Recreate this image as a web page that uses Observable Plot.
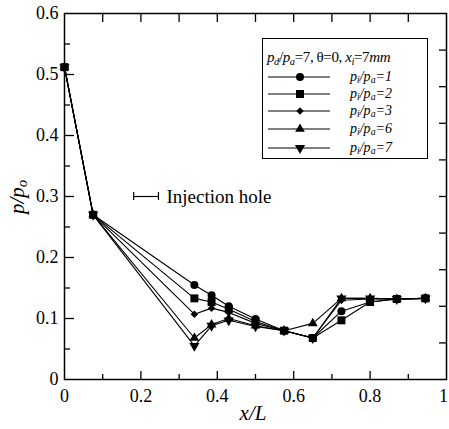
<!DOCTYPE html>
<html><head><meta charset="utf-8">
<script src="https://cdn.jsdelivr.net/npm/d3@7"></script>
<script src="https://cdn.jsdelivr.net/npm/@observablehq/plot@0.6"></script>
<style>
body{margin:0;background:#fff;}
#wrap{position:relative;width:449px;height:429px;font-family:"Liberation Serif",serif;color:#000;}
#wrap svg text{font-family:"Liberation Serif",serif !important;font-size:18px;}
#wrap svg text.hole{font-size:19px;}
#legend{position:absolute;left:262px;top:38px;width:166px;height:121px;border:1px solid #000;box-sizing:border-box;background:#fff;}
.lg{position:absolute;white-space:nowrap;line-height:1;}
.lab{position:absolute;white-space:nowrap;font-style:italic;line-height:1;}
sub{font-size:0.7em;vertical-align:-0.25em;line-height:0;}
</style></head><body><div id="wrap"></div>
<script>
// ---- data ----
const xPos = [0, 0.075, 0.34, 0.385, 0.43, 0.5, 0.575, 0.65, 0.725, 0.8, 0.87, 0.945];
const s1 = [0.512, 0.27, 0.155, 0.138, 0.12, 0.099, 0.080, 0.068, 0.112, 0.127, 0.132, 0.133];
const s2 = [0.512, 0.27, 0.133, 0.127, 0.115, 0.095, 0.080, 0.068, 0.097, 0.127, 0.132, 0.133];
const s3 = [0.512, 0.27, 0.107, 0.117, 0.110, 0.092, 0.080, 0.068, 0.130, 0.132, 0.132, 0.133];
const s4 = [0.512, 0.27, 0.068, 0.090, 0.100, 0.088, 0.080, 0.092, 0.133, 0.133, 0.132, 0.133];
const s5 = [0.512, 0.27, 0.055, 0.088, 0.097, 0.087, 0.080, 0.068, 0.133, 0.133, 0.132, 0.133];
const seriesValues = [s1, s2, s3, s4, s5];
const seriesNames = ["1", "2", "3", "6", "7"];
const seriesSymbols = ["circle", "square", "diamond2", "triangle", "triangle"];
const seriesRotate = [0, 0, 0, 0, 180];
const seriesR = [4, 4.5, 3.4, 3.6, 3.8];
const xTickLabels = [0, 0.2, 0.4, 0.6, 0.8];
const xLastLabel = [1];
const yTickLabels = [0, 0.1, 0.2, 0.3, 0.4, 0.5, 0.6];
const xMinor = [0.1, 0.3, 0.5, 0.7, 0.9];
const xMajor = [0.2, 0.4, 0.6, 0.8];
const yMinor = [0.05, 0.15, 0.25, 0.35, 0.45, 0.55];
const yMajor = [0.1, 0.2, 0.3, 0.4, 0.5];
const yRight = [0.06, 0.12, 0.18, 0.24, 0.30, 0.36, 0.42, 0.48, 0.54];
const hole = [{x1: 0.181, x2: 0.246, y: 0.3}];
const holeText = "Injection hole";

// ---- build ----
const W = 449, H = 429, mL = 64, mR = 3, mT = 13, mB = 50;
const pxX = 1 / (W - mL - mR);          // one pixel in x units
const pxY = 0.6 / (H - mT - mB);        // one pixel in y units
const fmt = d => String(d);

const rows = [];
seriesValues.forEach((vals, i) => vals.forEach((v, j) => rows.push({series: i, x: xPos[j], y: v})));

const marks = [
  Plot.frame({stroke: "black", strokeWidth: 1.5}),
  Plot.axisX(xTickLabels, {tickSize: 0, tickPadding: 10, label: null, tickFormat: fmt}),
  Plot.axisX(xLastLabel, {tickSize: 0, tickPadding: 10, label: null, tickFormat: fmt, dx: -3}),
  Plot.axisY(yTickLabels, {tickSize: 0, tickPadding: 6, label: null, tickFormat: fmt}),
  // inward ticks
  Plot.ruleX(xMajor, {y1: 0, y2: 8 * pxY, stroke: "black", strokeWidth: 1.3}),
  Plot.ruleX(xMinor, {y1: 0, y2: 5 * pxY, stroke: "black", strokeWidth: 1.3}),
  Plot.ruleX([...xMajor, ...xMinor], {y1: 0.6, y2: 0.6 - 9 * pxY, stroke: "black", strokeWidth: 1.3}),
  Plot.ruleY(yMajor, {x1: 0, x2: 10 * pxX, stroke: "black", strokeWidth: 1.3}),
  Plot.ruleY(yMinor, {x1: 0, x2: 6 * pxX, stroke: "black", strokeWidth: 1.3}),
  Plot.ruleY(yRight, {x1: 1, x2: 1 - 7 * pxX, stroke: "black", strokeWidth: 1.3}),
  // injection hole annotation
  Plot.ruleY(hole, {x1: "x1", x2: "x2", y: "y", stroke: "black", strokeWidth: 1.2}),
  Plot.ruleX(hole, {x: "x1", y1: d => d.y - 4 * pxY, y2: d => d.y + 4 * pxY, stroke: "black", strokeWidth: 1.2}),
  Plot.ruleX(hole, {x: "x2", y1: d => d.y - 4 * pxY, y2: d => d.y + 4 * pxY, stroke: "black", strokeWidth: 1.2}),
  Plot.text(hole, {x: "x2", y: "y", text: () => holeText, textAnchor: "start", dx: 8, fill: "black"})
];
seriesValues.forEach((vals, i) => {
  const d = rows.filter(r => r.series === i);
  marks.push(Plot.line(d, {x: "x", y: "y", stroke: "black", strokeWidth: 1.1}));
});
seriesValues.forEach((vals, i) => {
  const d = rows.filter(r => r.series === i);
  marks.push(Plot.dot(d, {x: "x", y: "y", symbol: () => seriesSymbols[i], r: seriesR[i], rotate: seriesRotate[i], fill: "black", stroke: "none"}));
});

const chart = Plot.plot({
  width: W, height: H,
  marginLeft: mL, marginRight: mR, marginTop: mT, marginBottom: mB,
  x: {domain: [0, 1]},
  y: {domain: [0, 0.6]},
  symbol: {type: "identity"},
  style: {color: "black", background: "white", overflow: "visible"},
  marks
});
const wrap = document.getElementById("wrap");
wrap.appendChild(chart);
d3.select(chart).selectAll("text").filter(function() { return this.textContent === holeText; }).classed("hole", true);

// axis titles
const yl = document.createElement("div");
yl.className = "lab";
yl.style.cssText += "font-size:21px;left:17px;top:197px;transform:translate(-50%,-50%) rotate(-90deg);";
yl.innerHTML = "p/p<sub>o</sub>";
wrap.appendChild(yl);
const xl = document.createElement("div");
xl.className = "lab";
xl.style.cssText += "font-size:21px;left:253px;top:413px;transform:translate(-50%,-50%);";
xl.innerHTML = "x/L";
wrap.appendChild(xl);

// legend
const lg = document.createElement("div");
lg.id = "legend";
const head = document.createElement("div");
head.className = "lg";
head.style.cssText += "left:4px;top:11px;font-size:15px;letter-spacing:-0.4px;";
head.innerHTML = "<i>p</i><sub><i>d</i></sub>/<i>p</i><sub><i>a</i></sub>=7, &theta;=0, <i>x</i><sub><i>i</i></sub>=7<i>mm</i>";
lg.appendChild(head);
const rowY = [38, 55, 72, 90, 109];
const symMap = {circle: d3.symbolCircle, square: d3.symbolSquare, diamond2: d3.symbolDiamond2, triangle: d3.symbolTriangle};
seriesNames.forEach((n, i) => {
  const svg = d3.create("svg").attr("width", 64).attr("height", 12)
    .style("position", "absolute").style("left", "5px").style("top", (rowY[i] - 6) + "px");
  svg.append("line").attr("x1", 0).attr("x2", 62).attr("y1", 6).attr("y2", 6).attr("stroke", "black").attr("stroke-width", 1);
  svg.append("path").attr("d", d3.symbol(symMap[seriesSymbols[i]], Math.PI * seriesR[i] * seriesR[i])())
    .attr("transform", `translate(32,6) rotate(${seriesRotate[i]})`).attr("fill", "black");
  lg.appendChild(svg.node());
  const t = document.createElement("div");
  t.className = "lg";
  t.style.cssText += `left:87px;top:${rowY[i] - 7}px;font-size:14px;font-style:italic;`;
  t.innerHTML = `p<sub>i</sub>/p<sub>a</sub>=${n}`;
  lg.appendChild(t);
});
wrap.appendChild(lg);
</script>
</body></html>
